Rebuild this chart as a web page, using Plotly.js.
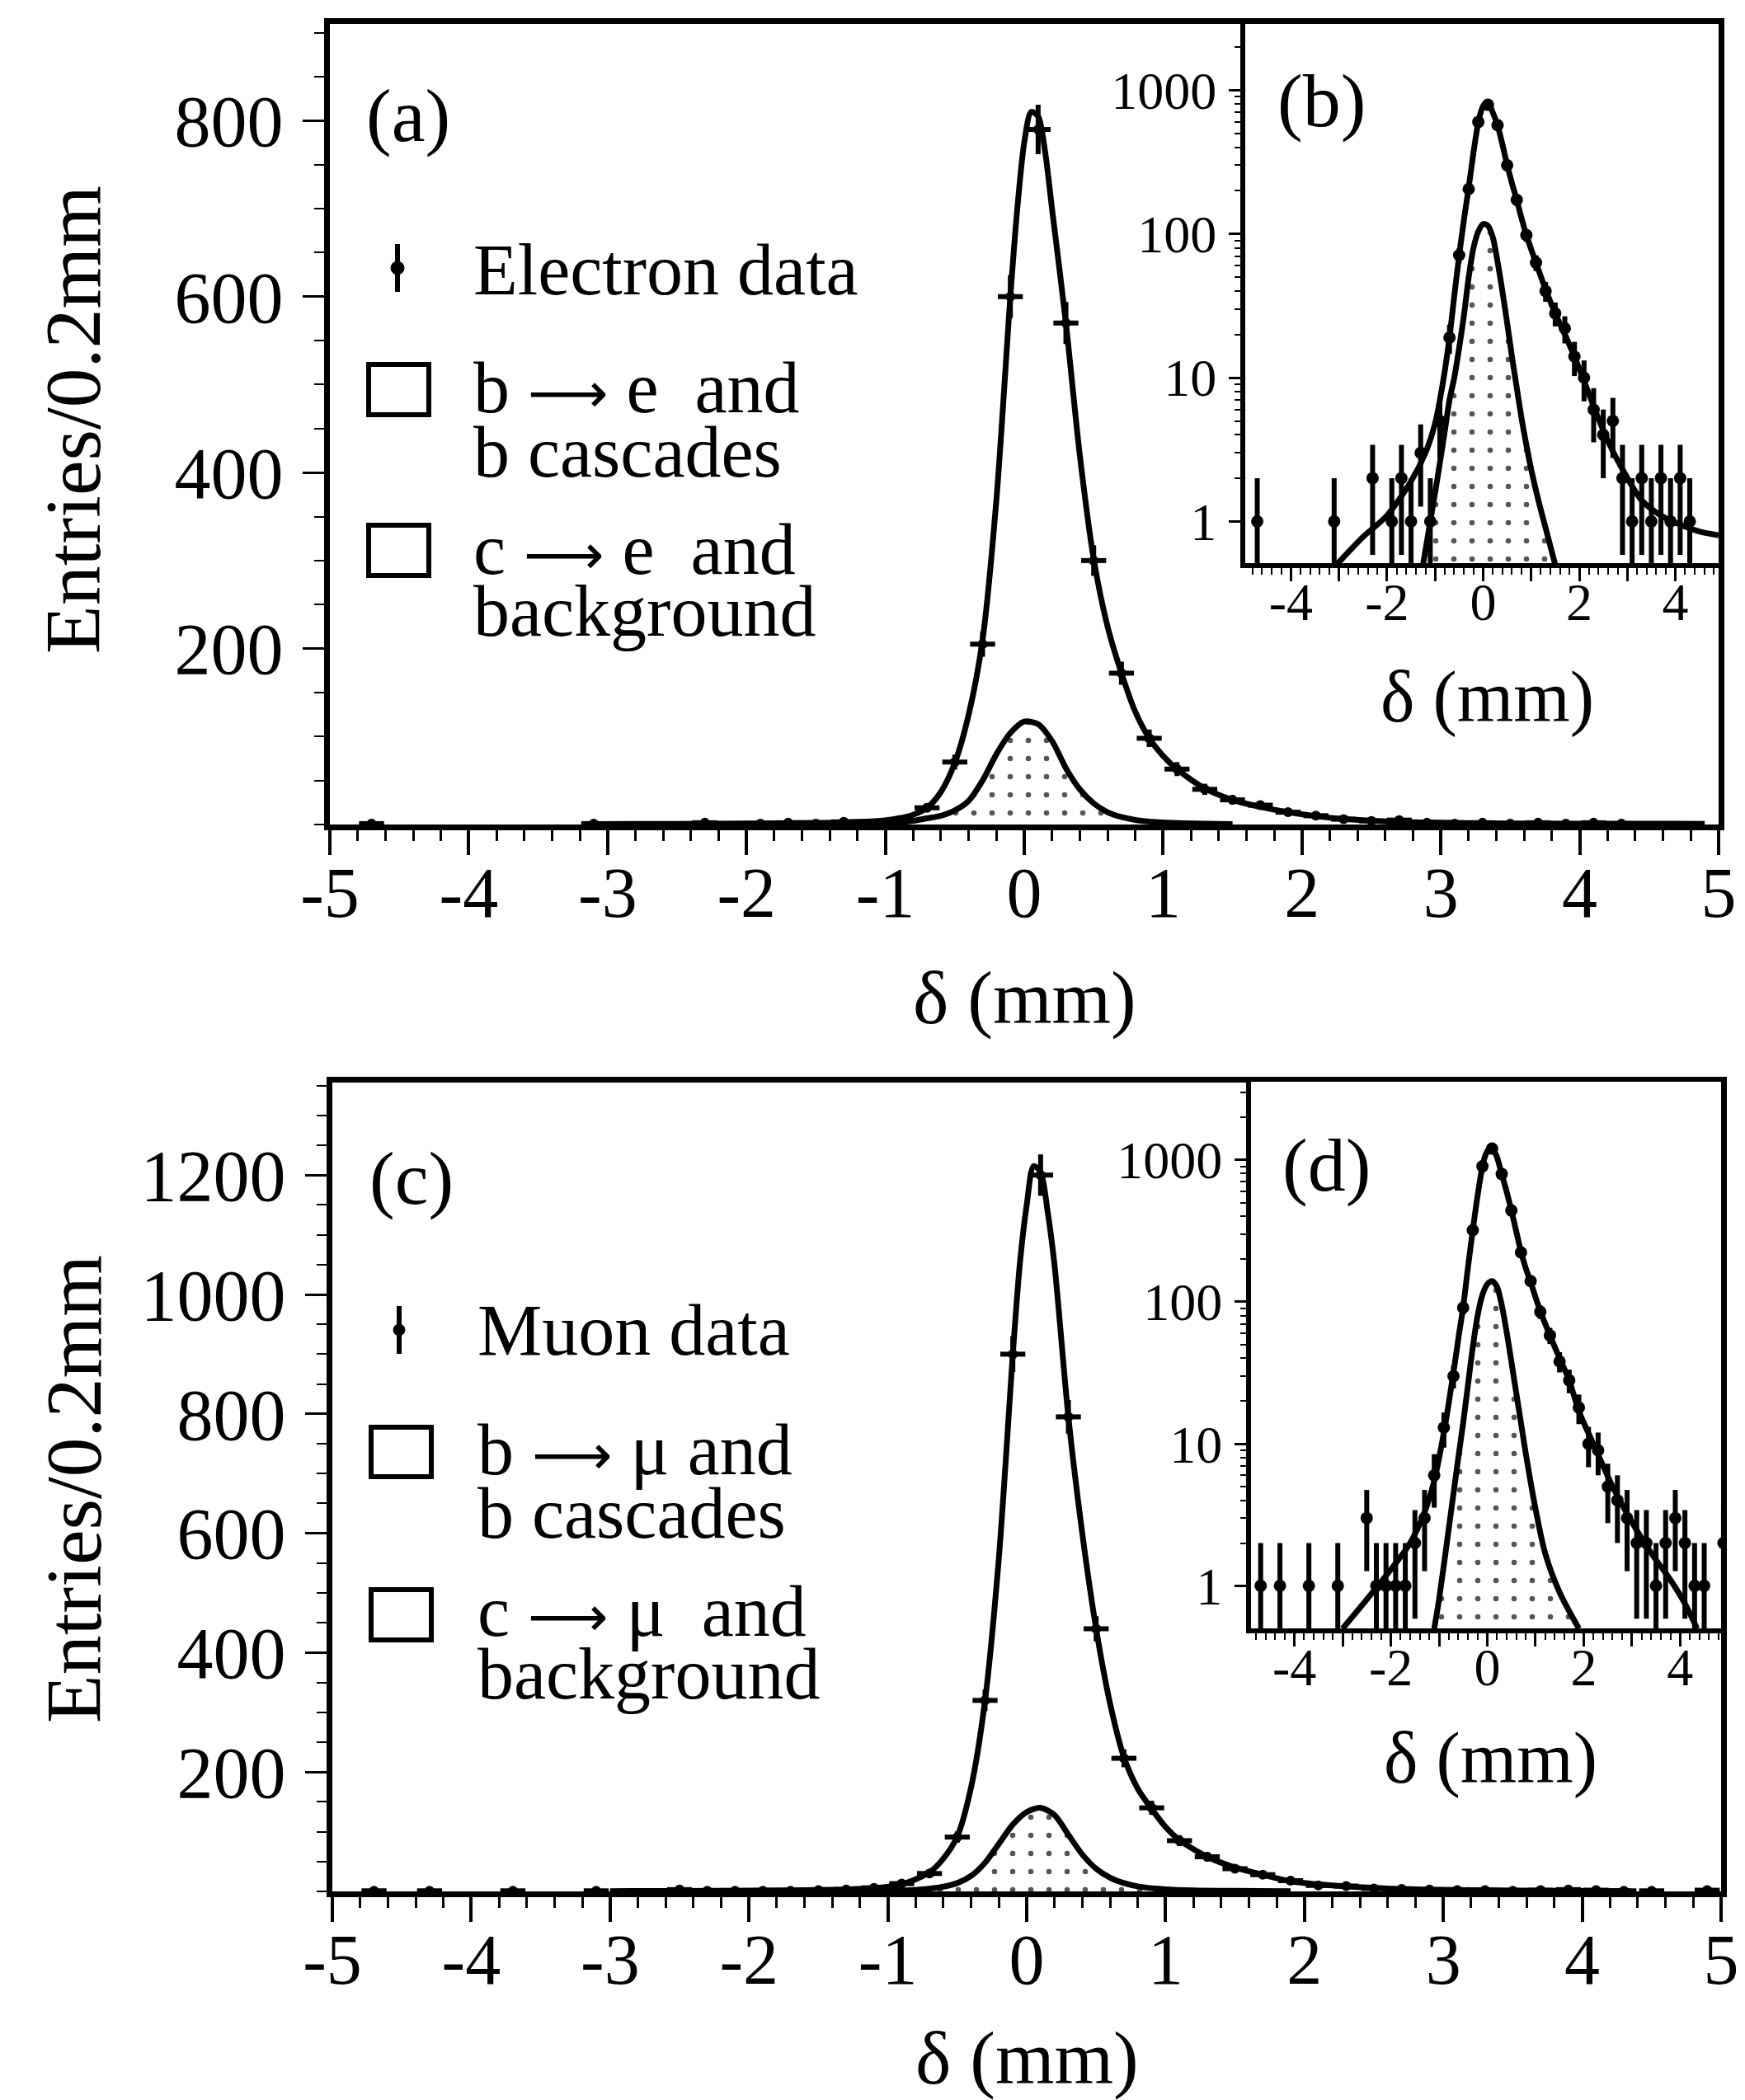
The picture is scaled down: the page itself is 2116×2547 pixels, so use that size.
<!DOCTYPE html>
<html><head><meta charset="utf-8">
<script src="https://cdn.plot.ly/plotly-3.0.1.min.js"></script>
<style>html,body{margin:0;padding:0;background:#fff;}#chart{width:2116px;height:2547px;}</style>
</head><body><div id="chart"></div>
<script>
// ---------- Electron sample (panels a, b) ----------
const eBins   = [-4.7,-3.1,-2.3,-1.9,-1.7,-1.5,-1.3,-1.1,-0.9,-0.7,-0.5,-0.3,-0.1,0.1,0.3,0.5,0.7,0.9,1.1,1.3,1.5,1.7,1.9,2.1,2.3,2.5,2.7,2.9,3.1,3.3,3.5,3.7,3.9,4.1,4.3];
const eCounts = [1,1,2,1,2,1,3,1,5,19,71,205,600,790,570,300,172,98,63,40,28,22,14,10,6,4,5,2,1,2,1,2,1,2,1];
const eFitX = [-3.05,-2.5,-2.0,-1.5,-1.2,-1.0,-0.9,-0.8,-0.7,-0.6,-0.5,-0.4,-0.3,-0.2,-0.1,-0.05,0.0,0.05,0.1,0.15,0.2,0.3,0.4,0.5,0.6,0.7,0.8,0.9,1.0,1.1,1.3,1.5,1.7,1.9,2.1,2.3,2.6,2.9,3.3,3.7,4.1,4.5,4.9];
const eFitY = [0.5,0.78,1.1,1.9,3.0,4.8,7,11,19,37,70,125,210,370,600,700,775,810,805,765,700,570,420,302,225,172,128,98,78,63,41,28,20,14,9.5,6.3,3.6,2.3,1.4,1.1,0.95,0.85,0.8];
const eBgX = [-1.25,-1.1,-0.95,-0.8,-0.7,-0.6,-0.5,-0.4,-0.3,-0.2,-0.1,0.0,0.1,0.2,0.3,0.4,0.5,0.6,0.7,0.8,0.9,1.0,1.15,1.3,1.5];
const eBgY = [0.5,1.0,2.0,4.2,7,10,16,27,50,80,104,117,114,95,64,40,24,14,8.5,5.2,3.4,2.3,1.4,0.9,0.5];

// ---------- Muon sample (panels c, d) ----------
const mBins   = [-4.7,-4.3,-3.7,-3.1,-2.5,-2.3,-2.1,-1.9,-1.7,-1.5,-1.3,-1.1,-0.9,-0.7,-0.5,-0.3,-0.1,0.1,0.3,0.5,0.7,0.9,1.1,1.3,1.5,1.7,1.9,2.1,2.3,2.5,2.7,2.9,3.1,3.3,3.5,3.7,3.9,4.1,4.3,4.5,4.9];
const mCounts = [1,1,1,1,3,1,1,1,1,2,3,6,13,30,91,320,900,1200,795,440,223,140,85,58,38,28,18,10,9,5,4,3,2,2,1,2,3,2,1,1,2];
const mFitX = [-3.0,-2.5,-2.0,-1.6,-1.3,-1.1,-0.9,-0.7,-0.6,-0.5,-0.4,-0.3,-0.2,-0.1,-0.05,0.0,0.05,0.1,0.15,0.2,0.3,0.4,0.5,0.6,0.7,0.8,0.9,1.0,1.1,1.3,1.5,1.7,1.9,2.2,2.6,3.0,3.4,3.8,4.1,4.35];
const mFitY = [0.5,0.8,1.3,2.0,3.3,5.5,12,32,55,92,175,320,560,900,1050,1150,1215,1205,1140,1050,795,600,440,315,225,172,138,108,86,58,40,28,17,10,5,2.8,1.7,1.1,0.75,0.5];
const mBgX = [-1.1,-1.0,-0.8,-0.6,-0.5,-0.4,-0.3,-0.2,-0.1,0.0,0.1,0.2,0.3,0.4,0.5,0.6,0.7,0.8,1.0,1.2,1.5,1.9];
const mBgY = [0.5,0.8,2.5,8,14,26,48,80,112,133,140,128,95,62,38,23,14,8.5,3.5,1.7,0.9,0.5];

// ---------- tick labels / texts ----------
const mainXTicks = [-5,-4,-3,-2,-1,0,1,2,3,4,5];
const mainXText  = ['-5','-4','-3','-2','-1','0','1','2','3','4','5'];
const yTicksA = [200,400,600,800];
const yTicksC = [200,400,600,800,1000,1200];
const insetXTicks = [-4,-3,-2,-1,0,1,2,3,4];
const insetXText  = ['-4','','-2','','0','','2','','4'];
const logTicks = [1,10,100,1000];
const logText  = ['1','10','100','1000'];

const W = 2116, H = 2547;
const FONT = 'Liberation Serif, Times New Roman, serif';
const px = x => x / W;
const py = y => 1 - y / H;

const logMinor = [];
[1,10,100,1000].forEach(d => { for (let k = 2; k <= 9; k++) logMinor.push(k*d); });

function traces(xa, ya, bins, counts, fitX, fitY, bgX, bgY, inset) {
  const lw = 7;
  return [
    {x: bgX, y: bgY, xaxis: xa, yaxis: ya, type: 'scatter', mode: 'lines',
     line: {color: '#000', width: lw, shape: 'spline', smoothing: 0.8},
     fill: 'tozeroy', fillcolor: 'rgba(0,0,0,0)',
     fillpattern: {shape: '.', fgcolor: '#555', bgcolor: 'rgba(255,255,255,0)', size: 22, solidity: 0.07},
     hoverinfo: 'skip'},
    {x: fitX, y: fitY, xaxis: xa, yaxis: ya, type: 'scatter', mode: 'lines',
     line: {color: '#000', width: lw, shape: 'spline', smoothing: 0.8}, hoverinfo: 'skip'},
    {x: bins, y: counts, xaxis: xa, yaxis: ya, type: 'scatter', mode: 'markers',
     marker: {color: '#000', size: inset ? 15 : 12, symbol: 'circle'},
     error_y: {type: 'data', array: counts.map(Math.sqrt), color: '#000', thickness: 6, width: 0},
     error_x: {type: 'constant', value: 0.09, color: '#000', thickness: 6, width: 0},
     cliponaxis: inset ? true : false}
  ];
}

const data = [].concat(
  traces('x', 'y', eBins, eCounts, eFitX, eFitY, eBgX, eBgY, false),
  traces('x2', 'y2', eBins, eCounts, eFitX, eFitY, eBgX, eBgY, true),
  traces('x3', 'y3', mBins, mCounts, mFitX, mFitY, mBgX, mBgY, false),
  traces('x4', 'y4', mBins, mCounts, mFitX, mFitY, mBgX, mBgY, true)
);

function mainX(domain, anchor) {
  return {domain: domain, anchor: anchor, range: [-5, 5], showline: true, linewidth: 7, linecolor: '#000',
    mirror: true, ticks: 'outside', ticklen: 30, tickwidth: 4, tickcolor: '#000',
    tickvals: mainXTicks, ticktext: mainXText, ticklabelstandoff: -28,
    minor: {dtick: 0.2, tick0: 0, ticks: 'outside', ticklen: 13, tickwidth: 3, tickcolor: '#000', showgrid: false},
    tickfont: {family: FONT, size: 86, color: '#000'}, showgrid: false, zeroline: false, fixedrange: true};
}
function mainY(domain, anchor, range, vals) {
  return {domain: domain, anchor: anchor, range: range, showline: true, linewidth: 7, linecolor: '#000',
    mirror: true, ticks: 'outside', ticklen: 26, tickwidth: 3, tickcolor: '#000',
    tickvals: vals, ticktext: vals.map(String), ticklabelstandoff: 6,
    minor: {dtick: 50, tick0: 0, ticks: 'outside', ticklen: 12, tickwidth: 2, tickcolor: '#000', showgrid: false},
    tickfont: {family: FONT, size: 88, color: '#000'}, showgrid: false, zeroline: false, fixedrange: true};
}
function insetX(domain, anchor, range) {
  return {domain: domain, anchor: anchor, range: range, showline: true, linewidth: 6, linecolor: '#000',
    mirror: true, ticks: 'outside', ticklen: 16, tickwidth: 3, tickcolor: '#000',
    tickvals: insetXTicks, ticktext: insetXText, ticklabelstandoff: -30,
    minor: {dtick: 0.2, tick0: 0, ticks: 'outside', ticklen: 8, tickwidth: 2, tickcolor: '#000', showgrid: false},
    tickfont: {family: FONT, size: 64, color: '#000'}, showgrid: false, zeroline: false, fixedrange: true};
}
function insetY(domain, anchor, range) {
  return {domain: domain, anchor: anchor, type: 'log', range: range, showline: true, linewidth: 6, linecolor: '#000',
    mirror: true, ticks: 'outside', ticklen: 14, tickwidth: 3, tickcolor: '#000',
    tickvals: logTicks, ticktext: logText, ticklabelstandoff: 2,
    minor: {tickvals: logMinor, ticks: 'outside', ticklen: 7, tickwidth: 2, tickcolor: '#000', showgrid: false},
    tickfont: {family: FONT, size: 64, color: '#000'}, showgrid: false, zeroline: false, fixedrange: true};
}

function ann(text, x, y, size, opts) {
  return Object.assign({text: text, x: px(x), y: py(y), xref: 'paper', yref: 'paper', showarrow: false,
    font: {family: FONT, size: size, color: '#000'}, xanchor: 'center', yanchor: 'middle'}, opts || {});
}
const L = {xanchor: 'left'};
const NB = '\u00A0';
const ARROW = '<span style="font-family:DejaVu Sans;font-size:68px">\u27F6</span>';

const annotations = [
  ann('(a)', 495, 140, 92), ann('(b)', 1602, 122, 92), ann('(c)', 499, 1429, 92), ann('(d)', 1608, 1413, 92),
  ann('Entries/0.2mm', 89, 509, 96, {textangle: -90}),
  ann('Entries/0.2mm', 89, 1806, 96, {textangle: -90}),
  ann('\u03B4 (mm)', 1242, 1210, 92), ann('\u03B4 (mm)', 1245, 2496, 92),
  ann('\u03B4 (mm)', 1803, 845, 88), ann('\u03B4 (mm)', 1807, 2132, 88),
  ann('Electron data', 572, 328, 88, L),
  ann('b ' + ARROW + ' e' + NB + NB + 'and', 572, 471, 88, L),
  ann('b cascades', 572, 549, 88, L),
  ann('c ' + ARROW + ' e' + NB + NB + 'and', 572, 666, 88, L),
  ann('background', 572, 741, 88, L),
  ann('Muon data', 577, 1613, 88, L),
  ann('b ' + ARROW + ' \u03BC and', 577, 1759, 88, L),
  ann('b cascades', 577, 1835, 88, L),
  ann('c ' + ARROW + ' \u03BC' + NB + NB + 'and', 577, 1954, 88, L),
  ann('background', 577, 2030, 88, L)
];

function box(x0, y0, x1, y1) {
  return {type: 'rect', xref: 'paper', yref: 'paper', x0: px(x0), x1: px(x1), y0: py(y1), y1: py(y0),
    line: {color: '#000', width: 6}, fillcolor: 'rgba(0,0,0,0)'};
}
function vline(x, y0, y1) {
  return {type: 'line', xref: 'paper', yref: 'paper', x0: px(x), x1: px(x), y0: py(y1), y1: py(y0),
    line: {color: '#000', width: 6}};
}
function dot(x, y, r) {
  return {type: 'circle', xref: 'paper', yref: 'paper', x0: px(x - r), x1: px(x + r), y0: py(y + r), y1: py(y - r),
    line: {color: '#000', width: 1}, fillcolor: '#000'};
}
const shapes = [
  box(447, 442, 520, 503), box(447, 637, 520, 698),
  vline(482, 296, 354), dot(482, 325, 8),
  box(450, 1731, 523, 1791), box(450, 1928, 523, 1989),
  vline(484, 1584, 1642), dot(484, 1613, 7)
];

const layout = {
  width: W, height: H, margin: {l: 0, r: 0, t: 0, b: 0},
  paper_bgcolor: '#fff', plot_bgcolor: '#fff', showlegend: false,
  font: {family: FONT, color: '#000'},
  xaxis:  mainX([px(400), px(2084)], 'y'),
  yaxis:  mainY([py(1000), py(29)], 'x', [0, 910], yTicksA),
  xaxis2: insetX([px(1510), px(2084)], 'y2', [-4.95, 4.9]),
  yaxis2: insetY([py(683), py(29)], 'x2', [-0.29, 3.46]),
  xaxis3: mainX([px(403), px(2087)], 'y3'),
  yaxis3: mainY([py(2294), py(1313)], 'x3', [0, 1355], yTicksC),
  xaxis4: insetX([px(1517), px(2087)], 'y4', [-4.9, 4.85]),
  yaxis4: insetY([py(1975), py(1312)], 'x4', [-0.3, 3.55]),
  annotations: annotations, shapes: shapes
};

Plotly.newPlot('chart', data, layout, {staticPlot: true, displayModeBar: false});
</script>
</body></html>
